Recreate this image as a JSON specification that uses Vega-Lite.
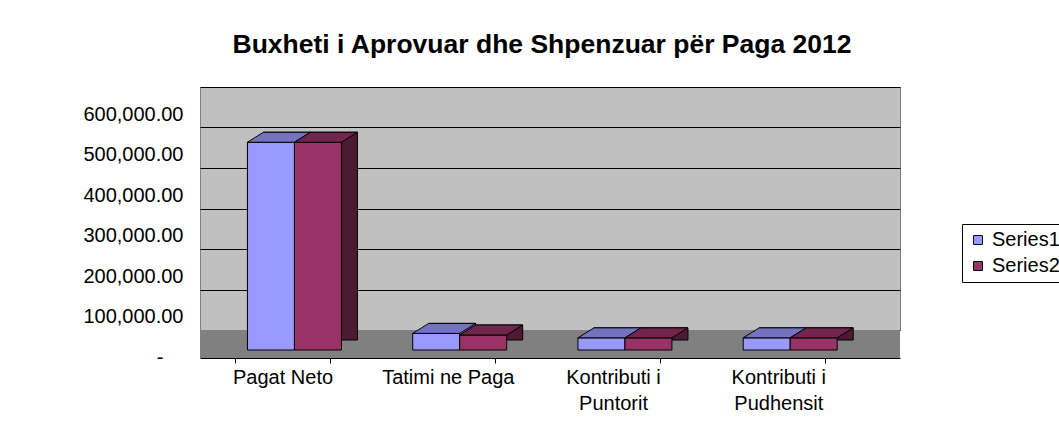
{
  "$schema": "https://vega.github.io/schema/vega-lite/v6.json",
  "width": 700,
  "height": 243,
  "autosize": {"type": "none"},
  "padding": {"left": 200, "top": 87, "right": 159, "bottom": 102},
  "background": "white",
  "title": {
    "text": "Buxheti i Aprovuar dhe Shpenzuar për Paga  2012",
    "font": "Liberation Sans",
    "fontSize": 26.5,
    "fontWeight": "bold",
    "color": "black",
    "anchor": "middle",
    "frame": "group",
    "offset": 29,
    "dx": -8
  },
  "data": {
    "values": [
      {"category": "Pagat Neto", "series": "Series1", "value": 513000},
      {"category": "Pagat Neto", "series": "Series2", "value": 513000},
      {"category": "Tatimi ne Paga", "series": "Series1", "value": 41000},
      {"category": "Tatimi ne Paga", "series": "Series2", "value": 37000},
      {"category": "Kontributi i|Puntorit", "series": "Series1", "value": 30000},
      {"category": "Kontributi i|Puntorit", "series": "Series2", "value": 30000},
      {"category": "Kontributi i|Pudhensit", "series": "Series1", "value": 30000},
      {"category": "Kontributi i|Pudhensit", "series": "Series2", "value": 30000}
    ]
  },
  "encoding": {
    "x": {
      "field": "category",
      "type": "nominal",
      "sort": null,
      "scale": {"paddingInner": 0.43, "paddingOuter": 0.333, "align": 0.322},
      "axis": {
        "title": null,
        "labelAngle": 0,
        "labelExpr": "split(datum.label, '|')",
        "labelFont": "Liberation Sans",
        "labelFontSize": 20,
        "labelLineHeight": 26,
        "labelColor": "black",
        "labelPadding": 4,
        "offset": 28,
        "tickBand": "extent",
        "tickSize": 5,
        "tickColor": "black",
        "domainColor": "black",
        "grid": false
      }
    },
    "y": {
      "field": "value",
      "type": "quantitative",
      "scale": {"domain": [0, 600000], "nice": false},
      "axis": {
        "title": null,
        "values": [0, 100000, 200000, 300000, 400000, 500000, 600000],
        "labelExpr": "datum.value == 0 ? '-' : format(datum.value, ',.2f')",
        "labelFont": "Liberation Sans",
        "labelFontSize": 20,
        "labelColor": "black",
        "labelOffset": 27,
        "labelPadding": {"condition": {"test": "datum.value == 0", "value": 37}, "value": 17},
        "ticks": false,
        "domain": false,
        "grid": true,
        "gridColor": "black",
        "gridWidth": 1
      }
    }
  },
  "resolve": {"scale": {"xOffset": "independent"}},
  "layer": [
    {
      "mark": {"type": "rect", "fill": "#808080", "y2Offset": 28},
      "encoding": {
        "x": null,
        "y": {"datum": 0, "type": "quantitative"},
        "y2": {"datum": 0}
      }
    },
    {
      "mark": {"type": "bar", "stroke": "black", "strokeWidth": 1, "yOffset": 10, "y2Offset": 10},
      "encoding": {
        "xOffset": {"field": "series", "type": "nominal", "scale": {"range": [28, 122]}},
        "color": {"condition": {"test": "datum.series === 'Series1'", "value": "#7373c0"}, "value": "#4d1a33"}
      }
    },
    {
      "mark": {"type": "bar", "stroke": "black", "strokeWidth": 1, "yOffset": 20, "y2Offset": 20},
      "encoding": {
        "xOffset": {"field": "series", "type": "nominal", "scale": {"range": [12, 106]}},
        "color": {
          "field": "series",
          "type": "nominal",
          "scale": {"domain": ["Series1", "Series2"], "range": ["#9999ff", "#993366"]},
          "legend": {
            "title": null,
            "orient": "none",
            "legendX": 762,
            "legendY": 137,
            "strokeColor": "black",
            "fillColor": "white",
            "padding": 6,
            "labelFont": "Liberation Sans",
            "labelFontSize": 20,
            "labelColor": "black",
            "symbolType": "square",
            "symbolSize": 80,
            "symbolStrokeColor": "black",
            "symbolStrokeWidth": 1,
            "rowPadding": 6
          }
        }
      }
    },
    {
      "mark": {
        "type": "point",
        "shape": "M-0.7344,0L0.7344,0L1.2344,-0.3125L-0.2344,-0.3125Z",
        "size": 4096,
        "filled": true,
        "opacity": 1,
        "stroke": "black",
        "strokeWidth": 1,
        "yOffset": 20
      },
      "encoding": {
        "xOffset": {"field": "series", "type": "nominal", "scale": {"range": [12, 106]}},
        "fill": {"condition": {"test": "datum.series === 'Series1'", "value": "#7373c0"}, "value": "#73264d"}
      }
    }
  ],
  "config": {
    "view": {"fill": "#c0c0c0", "stroke": "#808080"}
  }
}
